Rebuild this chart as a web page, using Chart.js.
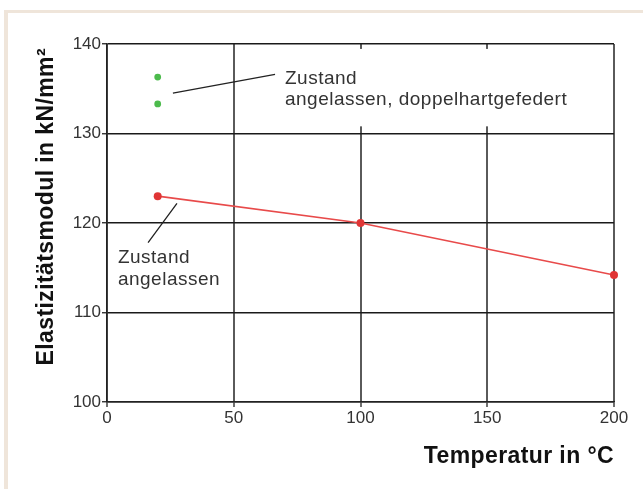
<!DOCTYPE html>
<html>
<head>
<meta charset="utf-8">
<script src="https://cdn.jsdelivr.net/npm/chart.js@4.4.1/dist/chart.umd.min.js"></script>
<style>
  html, body { margin: 0; padding: 0; background: #ffffff; }
  canvas { display: block; }
</style>
</head>
<body>
<canvas id="chart" width="643" height="489"></canvas>
<script>
// Elastic modulus of the spring material versus temperature
const temperatures = [20, 100, 200];
const modulusTempered = [123.0, 120.0, 114.2];

const temperaturesDoubleHardened = [20, 20];
const modulusDoubleHardened = [136.3, 133.3];

const xTicks = [0, 50, 100, 150, 200];
const yTicks = [100, 110, 120, 130, 140];

const xTitle = 'Temperatur in °C';
const yTitle = 'Elastizitätsmodul in kN/mm²';

const labelDoubleHardened = ['Zustand', 'angelassen, doppelhartgefedert'];
const labelTempered = ['Zustand', 'angelassen'];

const toPoints = (xs, ys) => xs.map((x, i) => ({ x: x, y: ys[i] }));

const FONT = '"Liberation Sans", Arial, sans-serif';

// Callout lines, label boxes and axis titles
const decorations = {
  id: 'decorations',
  beforeDraw(chart) {
    const ctx = chart.ctx;
    ctx.save();
    ctx.fillStyle = '#ffffff';
    ctx.fillRect(0, 0, chart.width, chart.height);
    // light frame along the top and left edge
    ctx.fillStyle = '#efe5da';
    ctx.fillRect(4, 10, chart.width - 4, 3);
    ctx.fillRect(4, 10, 4, chart.height - 10);
    ctx.restore();
  },
  beforeDatasetsDraw(chart) {
    const { ctx, scales: { x, y } } = chart;
    ctx.save();
    // white backing behind the upper label
    const bx0 = x.getPixelForValue(68), bx1 = x.getPixelForValue(186);
    const by0 = y.getPixelForValue(139.45), by1 = y.getPixelForValue(130.8);
    ctx.fillStyle = '#ffffff';
    ctx.fillRect(bx0, by0, bx1 - bx0, by1 - by0);

    // callout lines
    ctx.strokeStyle = '#222222';
    ctx.lineWidth = 1.3;
    ctx.beginPath();
    ctx.moveTo(x.getPixelForValue(26.0), y.getPixelForValue(134.5));
    ctx.lineTo(x.getPixelForValue(66.3), y.getPixelForValue(136.6));
    ctx.moveTo(x.getPixelForValue(16.2), y.getPixelForValue(117.8));
    ctx.lineTo(x.getPixelForValue(27.6), y.getPixelForValue(122.2));
    ctx.stroke();

    // label text
    ctx.fillStyle = '#333333';
    ctx.font = '19px ' + FONT;
    ctx.letterSpacing = '0.5px';
    ctx.textAlign = 'left';
    ctx.textBaseline = 'alphabetic';
    const gx = x.getPixelForValue(70.2);
    ctx.fillText(labelDoubleHardened[0], gx, y.getPixelForValue(135.5));
    ctx.fillText(labelDoubleHardened[1], gx, y.getPixelForValue(133.2));
    const rx = x.getPixelForValue(4.3);
    ctx.fillText(labelTempered[0], rx, y.getPixelForValue(115.5));
    ctx.fillText(labelTempered[1], rx, y.getPixelForValue(113.1));
    ctx.restore();
  },
  afterDraw(chart) {
    const { ctx, chartArea } = chart;
    ctx.save();
    ctx.fillStyle = '#111111';
    ctx.font = 'bold 23px ' + FONT;
    ctx.letterSpacing = '0.4px';
    ctx.textBaseline = 'alphabetic';
    // x axis title, right aligned to the plot
    ctx.textAlign = 'right';
    ctx.fillText(xTitle, chartArea.right, chartArea.bottom + 61);
    // y axis title, rotated, ending at the top of the plot
    ctx.translate(53, chartArea.top + 4);
    ctx.rotate(-Math.PI / 2);
    ctx.textAlign = 'right';
    ctx.fillText(yTitle, 0, 0);
    ctx.restore();
  }
};

new Chart(document.getElementById('chart'), {
  type: 'scatter',
  data: {
    datasets: [
      {
        label: 'angelassen',
        data: toPoints(temperatures, modulusTempered),
        showLine: true,
        clip: false,
        borderColor: '#e84a4a',
        borderWidth: 1.6,
        backgroundColor: '#e03535',
        pointBackgroundColor: '#e03535',
        pointBorderWidth: 0,
        pointRadius: 4,
        order: 1
      },
      {
        label: 'angelassen, doppelhartgefedert',
        data: toPoints(temperaturesDoubleHardened, modulusDoubleHardened),
        showLine: false,
        clip: false,
        backgroundColor: '#4cbb4c',
        pointBackgroundColor: '#4cbb4c',
        pointBorderWidth: 0,
        pointRadius: 3.4,
        order: 2
      }
    ]
  },
  options: {
    responsive: false,
    animation: false,
    devicePixelRatio: 1,
    layout: { padding: { top: 44, right: 29, left: 0, bottom: 0 } },
    plugins: {
      legend: { display: false },
      tooltip: { enabled: false },
      title: { display: false }
    },
    scales: {
      x: {
        type: 'linear',
        min: xTicks[0],
        max: xTicks[xTicks.length - 1],
        afterBuildTicks(scale) { scale.ticks = xTicks.map(v => ({ value: v })); },
        afterFit(scale) { scale.height = 87; },
        grid: {
          color: '#5a5a5a',
          lineWidth: 2,
          drawTicks: true,
          tickLength: 5,
          tickColor: '#222222',
          tickWidth: 1.3
        },
        border: { display: true, color: '#222222', width: 1.5 },
        ticks: {
          color: '#333333',
          font: { family: FONT, size: 17 },
          padding: 1,
          maxRotation: 0
        }
      },
      y: {
        type: 'linear',
        min: yTicks[0],
        max: yTicks[yTicks.length - 1],
        afterBuildTicks(scale) { scale.ticks = yTicks.map(v => ({ value: v })); },
        afterFit(scale) { scale.width = 107; },
        grid: {
          color: '#1a1a1a',
          lineWidth: 1.5,
          drawTicks: true,
          tickLength: 5,
          tickColor: '#222222',
          tickWidth: 1.3
        },
        border: { display: true, color: '#222222', width: 1.5 },
        ticks: {
          color: '#333333',
          font: { family: FONT, size: 17 },
          padding: 1
        }
      }
    }
  },
  plugins: [decorations]
});
</script>
</body>
</html>
